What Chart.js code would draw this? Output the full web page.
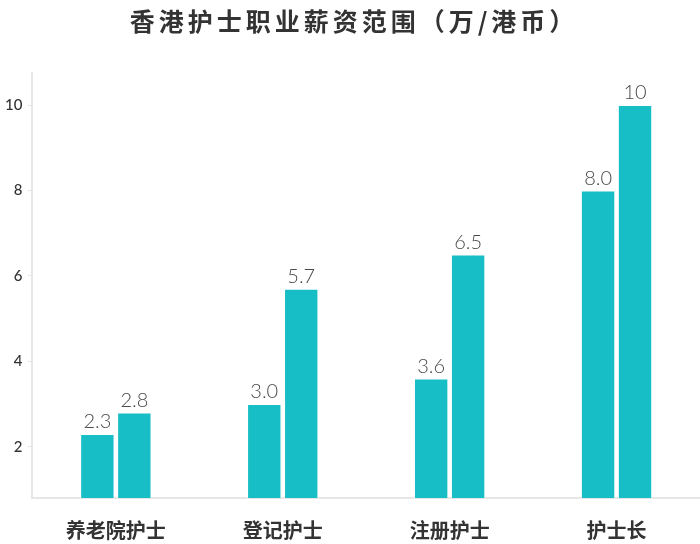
<!DOCTYPE html>
<html>
<head>
<meta charset="utf-8">
<script src="https://cdn.jsdelivr.net/npm/chart.js@4.4.1/dist/chart.umd.min.js"></script>
<style>
  html, body { margin: 0; padding: 0; background: #fff; }
  #wrap { width: 700px; height: 544px; }
</style>
</head>
<body>
<div id="wrap"><canvas id="c" width="700" height="544"></canvas></div>
<script>
// Hong Kong nurse salary ranges, in 10k HKD
const categories = ['养老院护士', '登记护士', '注册护士', '护士长'];
const minSalary = [2.3, 3.0, 3.6, 8.0];
const maxSalary = [2.8, 5.7, 6.5, 10];
const minLabels = ['2.3', '3.0', '3.6', '8.0'];
const maxLabels = ['2.8', '5.7', '6.5', '10'];
const yTicks = [2, 4, 6, 8, 10];
const chartTitle = '香港护士职业薪资范围（万/港币）';

const barColor = '#17BEC5';
const labelFont = 'Lato, "Noto Sans", sans-serif';
const cjkFont = '"Noto Sans CJK SC", "Noto Sans", sans-serif';

// Draws the value text above each bar
const valueLabels = {
  id: 'valueLabels',
  afterDatasetsDraw(chart) {
    const ctx = chart.ctx;
    const texts = [minLabels, maxLabels];
    ctx.save();
    ctx.font = '300 20px ' + labelFont;
    ctx.fillStyle = '#4a4a4a';
    ctx.textAlign = 'center';
    ctx.textBaseline = 'bottom';
    chart.data.datasets.forEach((ds, di) => {
      chart.getDatasetMeta(di).data.forEach((bar, i) => {
        ctx.fillText(texts[di][i], bar.x, bar.y - 2);
      });
    });
    ctx.restore();
  }
};

// Spaced-out heading drawn across the top
const spacedTitle = {
  id: 'spacedTitle',
  afterDraw(chart) {
    const ctx = chart.ctx;
    ctx.save();
    ctx.font = 'bold 25px ' + cjkFont;
    ctx.letterSpacing = '4px';
    ctx.fillStyle = '#333';
    ctx.textAlign = 'center';
    ctx.textBaseline = 'middle';
    ctx.fillText(chartTitle, chart.width / 2 + 4, 21);
    ctx.restore();
  }
};

new Chart(document.getElementById('c'), {
  type: 'bar',
  data: {
    labels: categories,
    datasets: [
      { label: '最低', data: minSalary, backgroundColor: barColor, borderColor: '#ffffff', borderWidth: 1,
        categoryPercentage: 0.443, barPercentage: 0.93 },
      { label: '最高', data: maxSalary, backgroundColor: barColor, borderColor: '#ffffff', borderWidth: 1,
        categoryPercentage: 0.443, barPercentage: 0.93 }
    ]
  },
  options: {
    responsive: false,
    animation: false,
    devicePixelRatio: 1,
    layout: { padding: { left: 0, right: 0, top: 73, bottom: -10 } },
    plugins: {
      legend: { display: false },
      tooltip: { enabled: false },
      title: { display: false }
    },
    scales: {
      x: {
        grid: { display: false },
        border: { color: '#e6e6e6', width: 2 },
        ticks: {
          color: '#333',
          font: { family: cjkFont, size: 20, weight: 'bold' },
          padding: 12
        }
      },
      y: {
        min: 0.8,
        max: 10.75,
        afterBuildTicks(axis) {
          axis.ticks = yTicks.map(v => ({ value: v }));
        },
        grid: { drawOnChartArea: false, drawTicks: true, tickLength: 5, color: '#e6e6e6', lineWidth: 1 },
        border: { color: '#e6e6e6', width: 2 },
        ticks: {
          color: '#333',
          font: { family: labelFont, size: 15, weight: 500 },
          padding: 5
        }
      }
    }
  },
  plugins: [valueLabels, spacedTitle]
});
</script>
</body>
</html>
